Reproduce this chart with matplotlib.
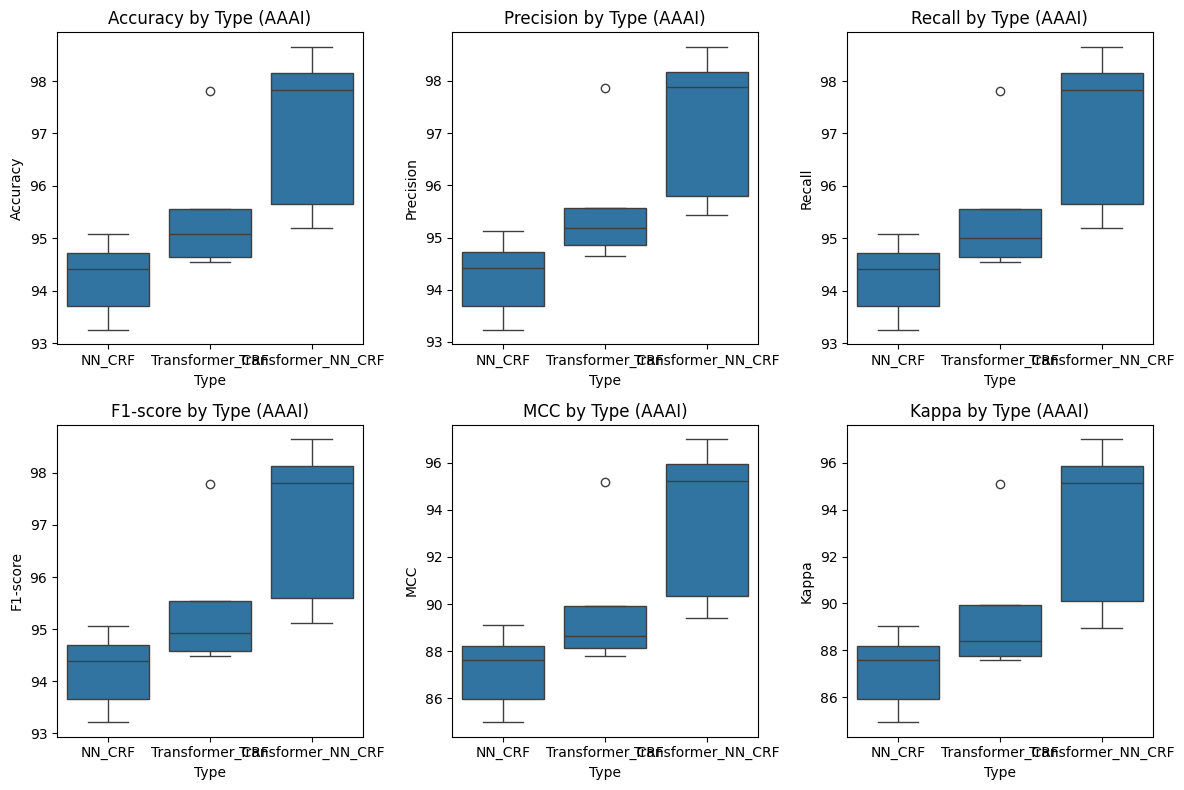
import pandas as pd
import seaborn as sns
import matplotlib
matplotlib.use("Agg")
import matplotlib.pyplot as plt

types = ["NN_CRF", "Transformer_CRF", "Transformer_NN_CRF"]
metrics = ["Accuracy", "Precision", "Recall", "F1-score", "MCC", "Kappa"]

# five runs per model type
accuracy = [[93.25, 93.71, 94.41, 94.71, 95.08],
            [94.54, 94.65, 95.08, 95.55, 97.82],
            [95.19, 95.65, 97.83, 98.16, 98.66]]
precision = [[93.23, 93.68, 94.42, 94.73, 95.12],
             [94.64, 94.86, 95.19, 95.56, 97.87],
             [95.44, 95.79, 97.89, 98.17, 98.66]]
recall = [[93.25, 93.71, 94.41, 94.71, 95.08],
          [94.54, 94.65, 95.00, 95.55, 97.82],
          [95.19, 95.65, 97.83, 98.16, 98.66]]
f1_score = [[93.21, 93.65, 94.39, 94.69, 95.06],
            [94.48, 94.58, 94.92, 95.55, 97.79],
            [95.12, 95.60, 97.81, 98.13, 98.65]]
mcc = [[84.98, 85.96, 87.64, 88.24, 89.11],
       [87.79, 88.13, 88.64, 89.93, 95.18],
       [89.40, 90.35, 95.22, 95.92, 97.00]]
kappa = [[84.93, 85.91, 87.59, 88.20, 89.02],
         [87.59, 87.74, 88.38, 89.94, 95.10],
         [88.94, 90.09, 95.15, 95.86, 97.01]]

values = [accuracy, precision, recall, f1_score, mcc, kappa]

rows = []
for i, t in enumerate(types):
    for k in range(len(accuracy[i])):
        row = {"Type": t}
        for m, v in zip(metrics, values):
            row[m] = v[i][k]
        rows.append(row)
df = pd.DataFrame(rows)

fig, axes = plt.subplots(2, 3, figsize=(12, 8), dpi=100)
for ax, m in zip(axes.flat, metrics):
    sns.boxplot(data=df, x="Type", y=m, ax=ax)
    ax.set_title(f"{m} by Type (AAAI)")

plt.tight_layout()
plt.savefig("out.png", dpi=100, bbox_inches="tight")
